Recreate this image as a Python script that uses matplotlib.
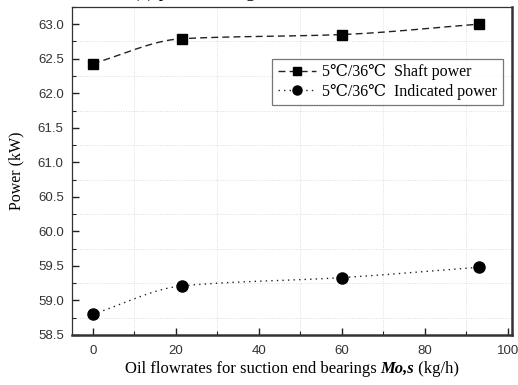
import numpy as np
import matplotlib
matplotlib.use("Agg")
import matplotlib.pyplot as plt
from matplotlib.ticker import MultipleLocator, FormatStrFormatter

# Oil flow rate for suction-end bearings (kg/h)
flow = [0, 21.5, 60, 93]
# Power at 5℃/36℃ condition (kW)
shaft_power = [62.43, 62.79, 62.85, 63.00]
indicated_power = [58.80, 59.21, 59.33, 59.48]

label_shaft = "5\u2103/36\u2103  Shaft power"
label_ind = "5\u2103/36\u2103  Indicated power"
xlabel_parts = ["Oil flowrates for suction end bearings ", "Mo,s", " (kg/h)"]
ylabel = "Power (kW)"
caption = "(a) power change"

serif = ["Liberation Serif", "DejaVu Serif"]
sans = ["Liberation Sans", "DejaVu Sans"]


def pchip(x, y, xs):
    """Monotone piecewise cubic Hermite curve through the points."""
    x = np.asarray(x, float)
    y = np.asarray(y, float)
    h = np.diff(x)
    d = np.diff(y) / h
    m = np.zeros_like(y)
    for k in range(1, len(x) - 1):
        if d[k - 1] * d[k] > 0:
            w1 = 2 * h[k] + h[k - 1]
            w2 = h[k] + 2 * h[k - 1]
            m[k] = (w1 + w2) / (w1 / d[k - 1] + w2 / d[k])
    m[0] = d[0]
    m[-1] = d[-1]
    out = np.empty_like(xs)
    for i, xv in enumerate(xs):
        k = min(max(np.searchsorted(x, xv, side="right") - 1, 0), len(x) - 2)
        t = (xv - x[k]) / h[k]
        h00 = 2 * t**3 - 3 * t**2 + 1
        h10 = t**3 - 2 * t**2 + t
        h01 = -2 * t**3 + 3 * t**2
        h11 = t**3 - t**2
        out[i] = h00 * y[k] + h10 * h[k] * m[k] + h01 * y[k + 1] + h11 * h[k] * m[k + 1]
    return out


fig = plt.figure(figsize=(5.18, 3.85), dpi=100)
ax = fig.add_axes([0.139, 0.130, 0.849, 0.852])

dash = (0, (5, 3))
dots = (0, (1, 3))
xs = np.linspace(flow[0], flow[-1], 200)
ax.plot(xs, pchip(flow, shaft_power, xs), color="#222222", lw=1.0, linestyle=dash)
ax.plot(xs, pchip(flow, indicated_power, xs), color="#222222", lw=1.0, linestyle=dots)
ax.plot(flow, shaft_power, linestyle="none", marker="s", ms=7, color="black")
ax.plot(flow, indicated_power, linestyle="none", marker="o", ms=8, color="black")

# legend proxies combining line style and marker
h1, = ax.plot([], [], color="#222222", lw=1.0, linestyle=dash,
              marker="s", ms=6, markerfacecolor="black", markeredgecolor="black")
h2, = ax.plot([], [], color="#222222", lw=1.0, linestyle=dots,
              marker="o", ms=6.5, markerfacecolor="black", markeredgecolor="black")
leg = ax.legend([h1, h2], [label_shaft, label_ind], loc="upper right",
                bbox_to_anchor=(0.980, 0.842), frameon=True, fancybox=False,
                prop={"family": serif, "size": 11.5}, handlelength=2.4,
                handletextpad=0.4, borderpad=0.35, labelspacing=0.2,
                borderaxespad=0.0)
leg.get_frame().set_edgecolor("#555555")
leg.get_frame().set_linewidth(0.9)

ax.set_xlim(-5, 101)
ax.set_ylim(58.5, 63.25)
ax.xaxis.set_major_locator(MultipleLocator(20))
ax.xaxis.set_minor_locator(MultipleLocator(10))
ax.yaxis.set_major_locator(MultipleLocator(0.5))
ax.yaxis.set_minor_locator(MultipleLocator(0.25))
ax.yaxis.set_major_formatter(FormatStrFormatter("%.1f"))

ax.tick_params(which="both", direction="in", top=False, right=False,
               colors="#222222")
ax.tick_params(which="major", length=5, width=1.0)
ax.tick_params(which="minor", length=3, width=0.8)
ax.tick_params(axis="x", pad=7)
ax.tick_params(axis="y", pad=6)
for lbl in ax.get_xticklabels() + ax.get_yticklabels():
    lbl.set_family(sans)
    lbl.set_fontsize(9.5)
    lbl.set_color("#333333")

ax.grid(which="minor", color="#dddddd", linestyle=(0, (1, 1.5)), lw=0.7)
ax.grid(which="major", visible=False)
ax.set_axisbelow(True)

for side in ("left", "top"):
    ax.spines[side].set_linewidth(0.9)
    ax.spines[side].set_color("#333333")
for side in ("right", "bottom"):
    ax.spines[side].set_linewidth(1.8)
    ax.spines[side].set_color("#333333")

ax.set_ylabel(ylabel, family=serif, fontsize=11.5, labelpad=10)

# x-axis title assembled from plain and bold-italic pieces, centred under the axes
fs = 12
styles = [dict(), dict(style="italic", weight="bold"), dict()]
texts = [fig.text(0, 0.032, s, family=serif, fontsize=fs, ha="left",
                  va="baseline", **st) for s, st in zip(xlabel_parts, styles)]
renderer = fig.canvas.get_renderer()
widths = [t.get_window_extent(renderer).width for t in texts]
W = fig.bbox.width
total = sum(widths)
x0 = (0.139 + 0.849 / 2) * W - total / 2
for t, w in zip(texts, widths):
    t.set_x(x0 / W)
    x0 += w

# panel caption, mostly above the canvas edge
fig.text(0.257, 1.009, caption, family=serif, fontsize=13.5,
         ha="left", va="baseline")

fig.savefig("out.png", dpi=100)
